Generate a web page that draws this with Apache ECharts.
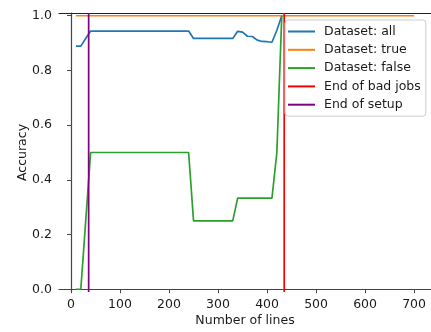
<!DOCTYPE html>
<html>
<head>
<meta charset="utf-8">
<script src="https://cdn.jsdelivr.net/npm/echarts@6/dist/echarts.min.js"></script>
<style>
  html, body { margin: 0; padding: 0; background: #fff; }
  #chart { width: 431px; height: 332px; }
</style>
</head>
<body>
<div id="chart"></div>
<script>
// number of lines read so far (x values)
const lineCounts = [10, 20, 30, 40, 50, 60, 70, 80, 90, 100, 110, 120, 130, 140, 150, 160,
  170, 180, 190, 200, 210, 220, 230, 240, 250, 260, 270, 280, 290, 300, 310, 320, 330,
  340, 350, 360, 370, 380, 390, 400, 410, 420, 430];

const accAll = [0.889, 0.889, 0.917,
  0.944, 0.944, 0.944, 0.944, 0.944, 0.944, 0.944, 0.944, 0.944, 0.944, 0.944,
  0.944, 0.944, 0.944, 0.944, 0.944, 0.944, 0.944, 0.944, 0.944, 0.944,
  0.917, 0.917, 0.917, 0.917, 0.917, 0.917, 0.917, 0.917, 0.917,
  0.943, 0.940, 0.925, 0.924, 0.911, 0.906, 0.905, 0.903,
  0.947, 1.0];

const accFalse = [0, 0, 0.25,
  0.5, 0.5, 0.5, 0.5, 0.5, 0.5, 0.5, 0.5, 0.5, 0.5, 0.5,
  0.5, 0.5, 0.5, 0.5, 0.5, 0.5, 0.5, 0.5, 0.5, 0.5,
  0.25, 0.25, 0.25, 0.25, 0.25, 0.25, 0.25, 0.25, 0.25,
  0.333, 0.333, 0.333, 0.333, 0.333, 0.333, 0.333, 0.333,
  0.5, 1.0];

const trueLines = [10, 700];
const accTrue = [1.0, 1.0];

const badJobsEnd = 435;
const setupEnd = 36;

const xTicks = [0, 100, 200, 300, 400, 500, 600, 700];
const yTicks = [0, 0.2, 0.4, 0.6, 0.8, 1.0];

const yMin = -0.01, yMax = 1.01;
const xMin = -24.5, xMax = 734.5;

const font = "DejaVu Sans";
const fs = 12.5;
const spine = "#444";
const ink = "#1a1a1a";

function pairs(xs, ys) {
  return xs.map((x, i) => [x, ys[i]]);
}

function vline(x) {
  return [[x, yMin], [x, yMax]];
}

const chart = echarts.init(document.getElementById("chart"));

var option = {
  animation: false,
  backgroundColor: "#fff",
  textStyle: { fontFamily: font },
  grid: { left: 59, top: 13, right: -2, bottom: 40 },
  legend: {
    orient: "vertical",
    left: 285,
    top: 20,
    icon: "rect",
    itemWidth: 27,
    itemHeight: 2,
    itemGap: 3.3,
    padding: [4, 5, 4, 3],
    backgroundColor: "rgba(255,255,255,0.8)",
    borderColor: "#ccc",
    borderWidth: 1,
    borderRadius: 3,
    textStyle: { fontFamily: font, fontSize: fs, color: ink, lineHeight: 15, padding: [0, 0, 0, 4] },
    data: ["Dataset: all", "Dataset: true", "Dataset: false", "End of bad jobs", "End of setup"],
  },
  xAxis: [
    {
      type: "value",
      min: xMin,
      max: xMax,
      name: "Number of lines",
      nameLocation: "middle",
      nameGap: 22,
      nameMoveOverlap: false,
      nameTextStyle: { fontFamily: font, fontSize: fs, color: ink },
      axisLine: { show: true, lineStyle: { color: spine, width: 1.2 } },
      axisTick: { show: true, length: 4, lineStyle: { color: spine, width: 1 }, customValues: xTicks },
      axisLabel: { fontFamily: font, fontSize: fs, color: ink, margin: 6, customValues: xTicks },
      splitLine: { show: false },
    },
    {
      type: "value",
      position: "top",
      min: xMin,
      max: xMax,
      axisLine: { show: true, onZero: false, lineStyle: { color: "#222", width: 1 } },
      axisTick: { show: false },
      axisLabel: { show: false },
      splitLine: { show: false },
    },
  ],
  yAxis: {
    type: "value",
    min: yMin,
    max: yMax,
    name: "Accuracy",
    nameLocation: "middle",
    nameGap: 30,
    nameMoveOverlap: false,
    nameTextStyle: { fontFamily: font, fontSize: fs, color: ink },
    axisLine: { show: true, lineStyle: { color: spine, width: 1.2 } },
    axisTick: { show: true, length: 4, lineStyle: { color: spine, width: 1 }, customValues: yTicks },
    axisLabel: {
      fontFamily: font, fontSize: fs, color: ink, margin: 7, customValues: yTicks,
      formatter: (v) => v.toFixed(1),
    },
    splitLine: { show: false },
  },
  series: [
    {
      name: "Dataset: all",
      type: "line",
      data: pairs(lineCounts, accAll),
      symbol: "none",
      color: "#1f77b4",
      lineStyle: { width: 1.7 },
    },
    {
      name: "Dataset: true",
      type: "line",
      data: pairs(trueLines, accTrue),
      symbol: "none",
      color: "#ff7f0e",
      lineStyle: { width: 1.7 },
    },
    {
      name: "Dataset: false",
      type: "line",
      data: pairs(lineCounts, accFalse),
      symbol: "none",
      color: "#2ca02c",
      lineStyle: { width: 1.7 },
    },
    {
      name: "End of bad jobs",
      type: "line",
      data: vline(badJobsEnd),
      symbol: "none",
      color: "#ff0000",
      lineStyle: { width: 1.7 },
    },
    {
      name: "End of setup",
      type: "line",
      data: vline(setupEnd),
      symbol: "none",
      color: "#800080",
      lineStyle: { width: 1.7 },
    },
  ],
};

chart.setOption(option);
</script>
</body>
</html>
